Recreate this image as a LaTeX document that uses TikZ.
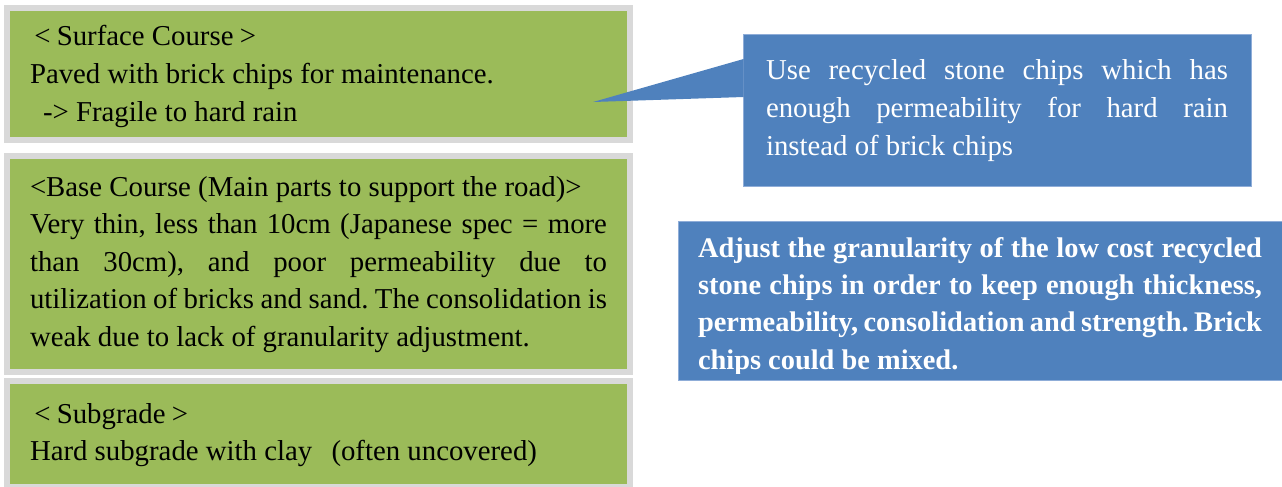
\documentclass[tikz,border=0pt]{standalone}
\usepackage{fontspec}
\setmainfont{Liberation Serif}
\usetikzlibrary{calc}

\definecolor{layergreen}{HTML}{9BBB59}
\definecolor{layerrim}{HTML}{D9D9D9}
\definecolor{ideablue}{HTML}{4F81BD}
\definecolor{idearim}{HTML}{8FADD8}

% one justified line of a given width
\newcommand\spreadline[2]{\makebox[#1][s]{#2}}
% full-width brackets, set as a glyph inside an em-wide box
\newcommand\wideopen{\makebox[1em]{<}}
\newcommand\wideclose{\makebox[1em]{>}}
\newcommand\wideparopen{\makebox[1em][r]{(}}
\newcommand\wideparclose{\makebox[1em][l]{)}}

\tikzset{
  layer/.style={draw=layerrim, line width=6pt, fill=layergreen,
    rectangle, inner sep=0pt, outer sep=0pt, anchor=north west},
  idea/.style={draw=idearim, line width=0.8pt, fill=ideablue,
    rectangle, inner sep=0pt, outer sep=0pt, anchor=north west},
  bodytext/.style={anchor=base west, inner sep=0pt, outer sep=0pt,
    font=\fontsize{28.8}{37.6}\selectfont\frenchspacing, text=black},
  ideatext/.style={bodytext, text=white},
}

\begin{document}
\begin{tikzpicture}[x=1pt, y=-1pt]
\useasboundingbox (0,0) rectangle (1282,487);

% --- pavement layers -------------------------------------------------
\node[layer, minimum width=623pt, minimum height=132pt] (surface) at (7,8) {};
\node[layer, minimum width=623pt, minimum height=216pt] (base) at (7,156) {};
\node[layer, minimum width=623pt, minimum height=106pt] (subgrade) at (7,381) {};

\node[bodytext] (surfacetxt) at (28,46) {\parbox[t]{580pt}{\raggedright
  \wideopen Surface Course\wideclose\\
  \hspace*{2pt}Paved with brick chips for maintenance.\\
  \hspace*{15pt}-> Fragile to hard rain}};

\node[bodytext] (basetxt) at (30,196) {\parbox[t]{577pt}{%
  <Base Course (Main parts to support the road)>\\
  \spreadline{577pt}{Very thin, less than 10cm (Japanese spec = more}\\
  \spreadline{577pt}{than 30cm), and poor permeability due to}\\
  \spreadline{577pt}{utilization of bricks and sand. The consolidation is}\\
  weak due to lack of granularity adjustment.}};

\node[bodytext] (subgradetxt) at (28,423) {\parbox[t]{580pt}{\raggedright
  \wideopen Subgrade\wideclose\\
  \hspace*{2pt}Hard subgrade with clay\wideparopen often uncovered\wideparclose}};

% --- callout with recommendation for the surface ---------------------
\coordinate (tip) at (593,102);
\node[idea, minimum width=508pt, minimum height=152pt] (callout) at (743,34) {};
\fill[ideablue] ($(callout.north west)+(0.6,25)$) -- (tip)
  -- ($(callout.north west)+(0.6,63)$) -- cycle;

\node[ideatext] (callouttxt) at (766,80) {\parbox[t]{462pt}{%
  \spreadline{462pt}{Use recycled stone chips which has}\\
  \spreadline{462pt}{enough permeability for hard rain}\\
  instead of brick chips}};

% --- recommendation for the base course --------------------------------
\node[idea, minimum width=620pt, minimum height=159pt] (basefix) at (678,221) {};
\coordinate (textfloor) at (1282,373);
\begin{scope}
  \clip (basefix.north west) rectangle (textfloor);
  \node[ideatext, font=\fontsize{28.4}{37.4}\selectfont\frenchspacing\bfseries] (basefixtxt) at (698,257) {\parbox[t]{564pt}{%
    \spreadline{564pt}{Adjust the granularity of the low cost recycled}\\
    \spreadline{564pt}{stone chips in order to keep enough thickness,}\\
    \spreadline{564pt}{permeability, consolidation and strength. Brick}\\
    chips could be mixed.}};
\end{scope}
\end{tikzpicture}
\end{document}
